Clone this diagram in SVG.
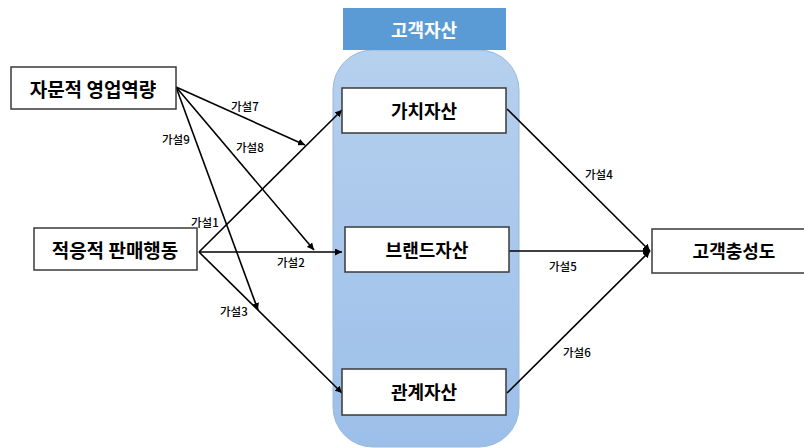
<svg xmlns="http://www.w3.org/2000/svg" width="804" height="448" viewBox="0 0 804 448">
<defs>
<linearGradient id="g" x1="0" y1="0" x2="0" y2="1">
<stop offset="0" stop-color="#b6d0ee"/>
<stop offset="1" stop-color="#9cbfe9"/>
</linearGradient>
<marker id="ah" viewBox="0 0 10 10" refX="10" refY="5" markerWidth="7" markerHeight="7" markerUnits="userSpaceOnUse" orient="auto">
<path d="M0,0 L10,5 L0,10 z" fill="#000"/>
</marker>
<style>
.box{fill:#fff;stroke:#3a3a3a;stroke-width:1.5}
.t{font-family:"Noto Sans CJK KR","Noto Sans",sans-serif;font-weight:bold;font-size:18px;fill:#000;text-anchor:middle;dominant-baseline:central}
.lab{font-family:"Noto Sans CJK KR","Noto Sans",sans-serif;font-weight:500;font-size:11.5px;fill:#000}
.e{stroke:#000;stroke-width:1.6;fill:none;marker-end:url(#ah)}
</style>
</defs>
<rect width="804" height="448" fill="#fff"/>
<g id="group">
<rect x="333" y="50" width="186" height="397" rx="40" fill="url(#g)" stroke="#9ab8dc" stroke-width="1"/>
<rect x="343" y="8" width="163" height="42" fill="#5b9bd5"/>
<text class="t" x="424" y="29" style="fill:#fff">고객자산</text>
</g>
<g id="connectors">
<line class="e" x1="176" y1="87" x2="305" y2="145"/>
<line class="e" x1="176" y1="87" x2="314" y2="250"/>
<line class="e" x1="176" y1="87" x2="258" y2="310"/>
<line class="e" x1="199" y1="252" x2="342" y2="110"/>
<line class="e" x1="199" y1="252" x2="342" y2="252"/>
<line class="e" x1="199" y1="252" x2="342" y2="393"/>
<line class="e" x1="507" y1="109" x2="650" y2="251"/>
<line class="e" x1="509" y1="251" x2="650" y2="251"/>
<line class="e" x1="507" y1="393" x2="650" y2="251"/>
<text class="lab" x="231" y="111">가설7</text>
<text class="lab" x="236" y="152">가설8</text>
<text class="lab" x="162" y="144">가설9</text>
<text class="lab" x="191" y="227">가설1</text>
<text class="lab" x="277" y="267">가설2</text>
<text class="lab" x="220" y="316">가설3</text>
<text class="lab" x="585" y="179">가설4</text>
<text class="lab" x="549" y="271">가설5</text>
<text class="lab" x="563" y="357">가설6</text>
</g>
<g id="n-consult">
<rect class="box" x="11" y="67" width="165" height="42"/>
<text class="t" x="93" y="88" style="font-size:19px">자문적 영업역량</text>
</g>
<g id="n-adaptive">
<rect class="box" x="34" y="228" width="163" height="42"/>
<text class="t" x="115" y="249" style="font-size:19px">적응적 판매행동</text>
</g>
<g id="n-value">
<rect class="box" x="342" y="88" width="164" height="45"/>
<text class="t" x="424" y="110">가치자산</text>
</g>
<g id="n-brand">
<rect class="box" x="345" y="227" width="164" height="45"/>
<text class="t" x="427" y="249">브랜드자산</text>
</g>
<g id="n-relation">
<rect class="box" x="342" y="369" width="164" height="46"/>
<text class="t" x="424" y="391">관계자산</text>
</g>
<g id="n-loyalty">
<rect class="box" x="652" y="229" width="160" height="44"/>
<text class="t" x="734" y="250">고객충성도</text>
</g>
</svg>
